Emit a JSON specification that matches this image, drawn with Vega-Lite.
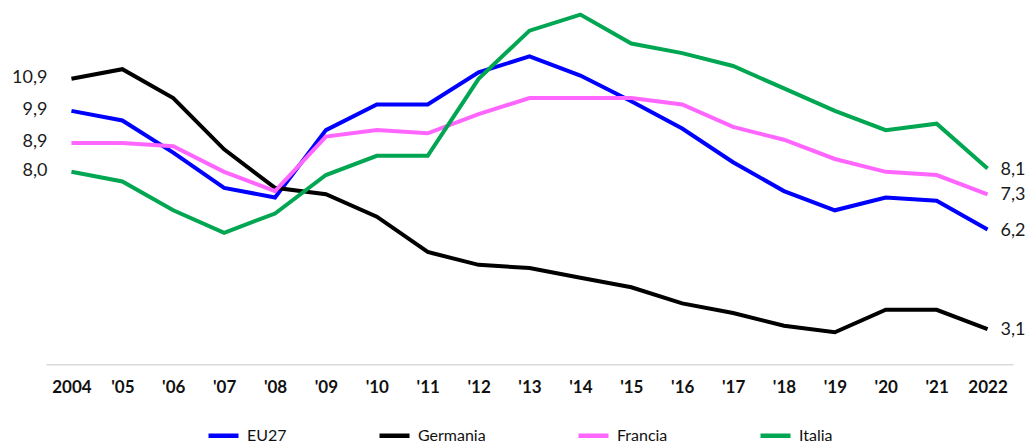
{
  "$schema": "https://vega.github.io/schema/vega-lite/v6.json",
  "width": 967,
  "height": 359.3,
  "autosize": {"type": "none"},
  "padding": {"left": 46, "top": 5, "right": 14, "bottom": 79},
  "config": {
    "view": {"stroke": null},
    "font": "Lato",
    "locale": {"number": {"decimal": ",", "thousands": ".", "grouping": [3], "currency": ["€", ""]}}
  },
  "data": {"values": [
    {"anno": 2004, "paese": "EU27", "valore": 9.9}, {"anno": 2004, "paese": "Germania", "valore": 10.9}, {"anno": 2004, "paese": "Francia", "valore": 8.9}, {"anno": 2004, "paese": "Italia", "valore": 8.0},
    {"anno": 2005, "paese": "EU27", "valore": 9.6}, {"anno": 2005, "paese": "Germania", "valore": 11.2}, {"anno": 2005, "paese": "Francia", "valore": 8.9}, {"anno": 2005, "paese": "Italia", "valore": 7.7},
    {"anno": 2006, "paese": "EU27", "valore": 8.6}, {"anno": 2006, "paese": "Germania", "valore": 10.3}, {"anno": 2006, "paese": "Francia", "valore": 8.8}, {"anno": 2006, "paese": "Italia", "valore": 6.8},
    {"anno": 2007, "paese": "EU27", "valore": 7.5}, {"anno": 2007, "paese": "Germania", "valore": 8.7}, {"anno": 2007, "paese": "Francia", "valore": 8.0}, {"anno": 2007, "paese": "Italia", "valore": 6.1},
    {"anno": 2008, "paese": "EU27", "valore": 7.2}, {"anno": 2008, "paese": "Germania", "valore": 7.5}, {"anno": 2008, "paese": "Francia", "valore": 7.4}, {"anno": 2008, "paese": "Italia", "valore": 6.7},
    {"anno": 2009, "paese": "EU27", "valore": 9.3}, {"anno": 2009, "paese": "Germania", "valore": 7.3}, {"anno": 2009, "paese": "Francia", "valore": 9.1}, {"anno": 2009, "paese": "Italia", "valore": 7.9},
    {"anno": 2010, "paese": "EU27", "valore": 10.1}, {"anno": 2010, "paese": "Germania", "valore": 6.6}, {"anno": 2010, "paese": "Francia", "valore": 9.3}, {"anno": 2010, "paese": "Italia", "valore": 8.5},
    {"anno": 2011, "paese": "EU27", "valore": 10.1}, {"anno": 2011, "paese": "Germania", "valore": 5.5}, {"anno": 2011, "paese": "Francia", "valore": 9.2}, {"anno": 2011, "paese": "Italia", "valore": 8.5},
    {"anno": 2012, "paese": "EU27", "valore": 11.1}, {"anno": 2012, "paese": "Germania", "valore": 5.1}, {"anno": 2012, "paese": "Francia", "valore": 9.8}, {"anno": 2012, "paese": "Italia", "valore": 10.9},
    {"anno": 2013, "paese": "EU27", "valore": 11.6}, {"anno": 2013, "paese": "Germania", "valore": 5.0}, {"anno": 2013, "paese": "Francia", "valore": 10.3}, {"anno": 2013, "paese": "Italia", "valore": 12.4},
    {"anno": 2014, "paese": "EU27", "valore": 11.0}, {"anno": 2014, "paese": "Germania", "valore": 4.7}, {"anno": 2014, "paese": "Francia", "valore": 10.3}, {"anno": 2014, "paese": "Italia", "valore": 12.9},
    {"anno": 2015, "paese": "EU27", "valore": 10.2}, {"anno": 2015, "paese": "Germania", "valore": 4.4}, {"anno": 2015, "paese": "Francia", "valore": 10.3}, {"anno": 2015, "paese": "Italia", "valore": 12.0},
    {"anno": 2016, "paese": "EU27", "valore": 9.35}, {"anno": 2016, "paese": "Germania", "valore": 3.9}, {"anno": 2016, "paese": "Francia", "valore": 10.1}, {"anno": 2016, "paese": "Italia", "valore": 11.7},
    {"anno": 2017, "paese": "EU27", "valore": 8.3}, {"anno": 2017, "paese": "Germania", "valore": 3.6}, {"anno": 2017, "paese": "Francia", "valore": 9.4}, {"anno": 2017, "paese": "Italia", "valore": 11.3},
    {"anno": 2018, "paese": "EU27", "valore": 7.4}, {"anno": 2018, "paese": "Germania", "valore": 3.2}, {"anno": 2018, "paese": "Francia", "valore": 9.0}, {"anno": 2018, "paese": "Italia", "valore": 10.6},
    {"anno": 2019, "paese": "EU27", "valore": 6.8}, {"anno": 2019, "paese": "Germania", "valore": 3.0}, {"anno": 2019, "paese": "Francia", "valore": 8.4}, {"anno": 2019, "paese": "Italia", "valore": 9.9},
    {"anno": 2020, "paese": "EU27", "valore": 7.2}, {"anno": 2020, "paese": "Germania", "valore": 3.7}, {"anno": 2020, "paese": "Francia", "valore": 8.0}, {"anno": 2020, "paese": "Italia", "valore": 9.3},
    {"anno": 2021, "paese": "EU27", "valore": 7.1}, {"anno": 2021, "paese": "Germania", "valore": 3.7}, {"anno": 2021, "paese": "Francia", "valore": 7.9}, {"anno": 2021, "paese": "Italia", "valore": 9.5},
    {"anno": 2022, "paese": "EU27", "valore": 6.2}, {"anno": 2022, "paese": "Germania", "valore": 3.1}, {"anno": 2022, "paese": "Francia", "valore": 7.3}, {"anno": 2022, "paese": "Italia", "valore": 8.1}
  ]},
  "encoding": {
    "x": {
      "field": "anno", "type": "ordinal",
      "scale": {"type": "point", "padding": 0.5},
      "axis": {
        "title": null, "labelAngle": 0, "ticks": false,
        "domainColor": "#D9D9D9", "domainWidth": 1.5,
        "labelFontSize": 17, "labelFontWeight": "bold", "labelColor": "#111111",
        "labelPadding": 15,
        "labelExpr": "datum.value == 2004 || datum.value == 2022 ? '' + datum.value : \"'\" + slice('' + datum.value, 2)"
      }
    },
    "y": {"field": "valore", "type": "quantitative", "scale": {"domain": [2, 13.2], "zero": false}, "axis": null}
  },
  "layer": [
    {
      "mark": {"type": "line", "strokeWidth": 4, "clip": false},
      "encoding": {
        "color": {
          "field": "paese", "type": "nominal",
          "scale": {"domain": ["EU27", "Germania", "Francia", "Italia"], "range": ["#0000FF", "#000000", "#FF66FF", "#00A651"]},
          "legend": {
            "title": null, "orient": "none", "direction": "horizontal",
            "legendX": 160, "legendY": 413,
            "symbolType": "stroke", "symbolSize": 900, "symbolStrokeWidth": 4.5,
            "labelFontSize": 16, "labelColor": "#111111", "labelOffset": 6,
            "columnPadding": 83, "padding": 0, "labelLimit": 200
          }
        }
      }
    },
    {
      "transform": [{"filter": "datum.anno == 2004"}],
      "mark": {"type": "text", "align": "right", "baseline": "middle", "dx": -24, "dy": -1, "fontSize": 18, "color": "#1a1a1a"},
      "encoding": {"text": {"field": "valore", "type": "quantitative", "format": ".1f"}}
    },
    {
      "transform": [{"filter": "datum.anno == 2022"}],
      "mark": {"type": "text", "align": "left", "baseline": "middle", "dx": 13, "dy": 1, "fontSize": 18, "color": "#1a1a1a"},
      "encoding": {"text": {"field": "valore", "type": "quantitative", "format": ".1f"}}
    }
  ]
}
